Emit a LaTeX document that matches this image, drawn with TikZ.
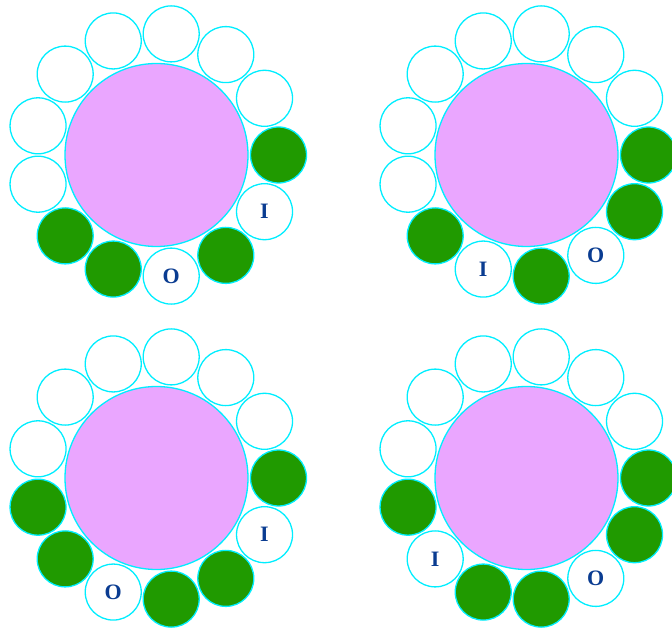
\documentclass[tikz,border=0pt]{standalone}
\usepackage{fontspec}
\setmainfont{Liberation Serif}
\usetikzlibrary{calc}
\definecolor{pinkfill}{RGB}{234,166,255}
\definecolor{ringgreen}{RGB}{32,154,0}
\definecolor{edgecyan}{RGB}{0,238,255}
\definecolor{labelblue}{RGB}{10,60,145}
\tikzset{
  bigdisc/.style={circle,draw=edgecyan,line width=1.3pt,fill=pinkfill,minimum size=183pt,inner sep=0pt},
  smalldisc/.style={circle,draw=edgecyan,line width=1.3pt,fill=white,minimum size=56pt,inner sep=0pt,
    text=labelblue,font=\fontsize{22pt}{22pt}\selectfont\bfseries},
  on/.style={fill=ringgreen},
  off/.style={},
}
\newcommand\ringgroup[4]{%
  \node[bigdisc] (#1c) at (#2,#3) {};
  \foreach \k/\s/\t in {#4} {
    \node[smalldisc,\s] (#1\k) at ($(#2,#3)+(360/13*\k:122pt)$) {\t};
  }
}
\begin{document}
\begin{tikzpicture}[x=1pt,y=1pt]
\useasboundingbox (0,0) rectangle (672,630);
\ringgroup{tl}{156.5}{475}{0/on/,1/off/,2/off/,3/off/,4/off/,5/off/,6/off/,7/off/,8/on/,9/on/,10/off/O,11/on/,12/off/I}
\ringgroup{tr}{526.5}{475}{0/on/,1/off/,2/off/,3/off/,4/off/,5/off/,6/off/,7/off/,8/on/,9/off/I,10/on/,11/off/O,12/on/}
\ringgroup{bl}{156.5}{152}{0/on/,1/off/,2/off/,3/off/,4/off/,5/off/,6/off/,7/on/,8/on/,9/off/O,10/on/,11/on/,12/off/I}
\ringgroup{br}{526.5}{152}{0/on/,1/off/,2/off/,3/off/,4/off/,5/off/,6/off/,7/on/,8/off/I,9/on/,10/on/,11/off/O,12/on/}
\end{tikzpicture}
\end{document}
